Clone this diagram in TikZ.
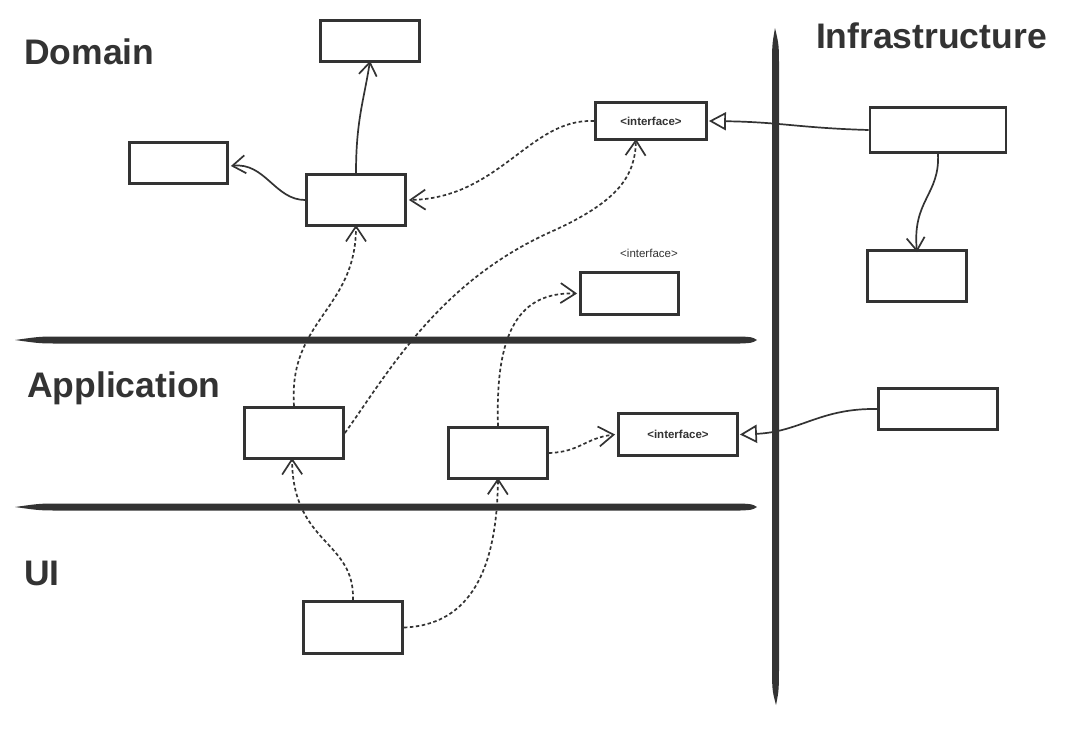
\documentclass[tikz,border=0pt]{standalone}
\usepackage{fontspec}
\setmainfont{Liberation Sans}
\usetikzlibrary{arrows.meta,calc}
\definecolor{ink}{HTML}{333333}
\tikzset{
  box/.style={draw=ink, line width=2.8pt, fill=white, inner sep=0pt, minimum width=100pt, minimum height=44pt},
  layer/.style={text=ink, font=\fontsize{35.5}{40}\selectfont\bfseries, inner sep=0pt},
  iftext/.style={font=\fontsize{11.5}{13}\selectfont\bfseries, text=ink},
  conn/.style={draw=ink, line width=1.7pt},
  dep/.style={conn, dash pattern=on 3.5pt off 2.5pt, -{Straight Barb[length=15pt,width=20pt,line width=1.7pt]}},
  uses/.style={conn, -{Straight Barb[length=13pt,width=18pt,line width=1.7pt]}},
  impl/.style={conn, -{Triangle[open,length=17pt,width=18pt,line width=1.7pt,fill=white]}},
  sep/.style={fill=ink}
}
\begin{document}
\begin{tikzpicture}[x=1pt,y=-1pt]
\useasboundingbox (0,0) rectangle (1076,732);
\fill[white] (0,0) rectangle (1076,732);

% separators
\fill[sep] (15,340) .. controls (40,336.5) .. (60,336.5) -- (740,336.5) .. controls (752,337) .. (757,340)
  .. controls (752,343) .. (740,343.5) -- (60,343.5) .. controls (40,343.5) .. cycle;
\fill[sep] (15,507) .. controls (40,503.5) .. (60,503.5) -- (740,503.5) .. controls (752,504) .. (757,507)
  .. controls (752,510) .. (740,510.5) -- (60,510.5) .. controls (40,510.5) .. cycle;
\fill[sep] (775,28) .. controls (772,45) .. (772,70) -- (772,660) .. controls (772,690) .. (776,705)
  .. controls (779,690) .. (779,660) -- (779,70) .. controls (779,45) .. cycle;

% layer labels
\node[layer, anchor=west] (ldom) at (24,52) {Domain};
\node[layer, anchor=west] (lapp) at (27,388) {Application};
\node[layer, anchor=west] (lui) at (24,573) {UI};
\node[layer, anchor=east] (linf) at (1047,36) {Infrastructure};

% boxes
\node[box, minimum width=99pt, minimum height=41pt] (d1) at (370,41) {};
\node[box, minimum width=98pt, minimum height=41pt] (d2) at (178.5,163) {};
\node[box, minimum width=99pt, minimum height=51pt] (d3) at (356,200) {};
\node[box, minimum width=111pt, minimum height=37pt, iftext] (i1) at (651,121) {<interface>};
\node[box, minimum width=98pt, minimum height=42pt] (i2) at (629.5,293.5) {};
\node[font=\fontsize{11.5}{13}\selectfont, text=ink, inner sep=0pt] (i2l) at (649,253) {<interface>};
\node[box, minimum width=136pt, minimum height=45pt] (f1) at (938,130) {};
\node[box, minimum width=99pt, minimum height=51pt] (f2) at (917,276) {};
\node[box, minimum width=99pt, minimum height=51pt] (a1) at (294,433) {};
\node[box, minimum width=99pt, minimum height=51pt] (a2) at (498,453) {};
\node[box, minimum width=119pt, minimum height=42pt, iftext] (i3) at (678,434.5) {<interface>};
\node[box, minimum width=119pt, minimum height=41pt] (f3) at (938,409) {};
\node[box, minimum width=99pt, minimum height=52pt] (u1) at (353,627.5) {};

% connectors
\draw[uses] (d3.north) .. controls (356,120) and (364,100) .. ([yshift=2pt]d1.south);
\draw[uses] (d3.west) .. controls (275,200) and (265,162) .. ([xshift=2pt,yshift=-3pt]d2.east);
\draw[dep] (i1.west) .. controls (530,118) and (500,198) .. ([xshift=2pt]d3.east);
\draw[impl] (f1.west) .. controls (800,128) and (780,122) .. ([xshift=1pt]i1.east);
\draw[uses] (f1.south) .. controls (940,195) and (912,200) .. ([yshift=-3pt]f2.north);
\draw[dep] (a1.north) .. controls (288,320) and (356,310) .. ([yshift=2pt]d3.south);
\draw[dep] (a1.east) .. controls (390,370) and (440,280) .. (555,230)
  .. controls (620,200) and (635,175) .. ([xshift=-15pt,yshift=2pt]i1.south);
\draw[dep] (a2.north) .. controls (495,330) and (520,292) .. ([xshift=-2pt]i2.west);
\draw[dep] (a2.east) .. controls (580,452) and (585,438) .. ([xshift=-2pt]i3.west);
\draw[impl] (f3.west) .. controls (820,408) and (800,432) .. ([xshift=1pt]i3.east);
\draw[dep] (u1.north) .. controls (355,540) and (293,545) .. ([xshift=-2pt,yshift=2pt]a1.south);
\draw[dep] (u1.east) .. controls (470,625) and (497,570) .. ([yshift=2pt]a2.south);
\end{tikzpicture}
\end{document}
